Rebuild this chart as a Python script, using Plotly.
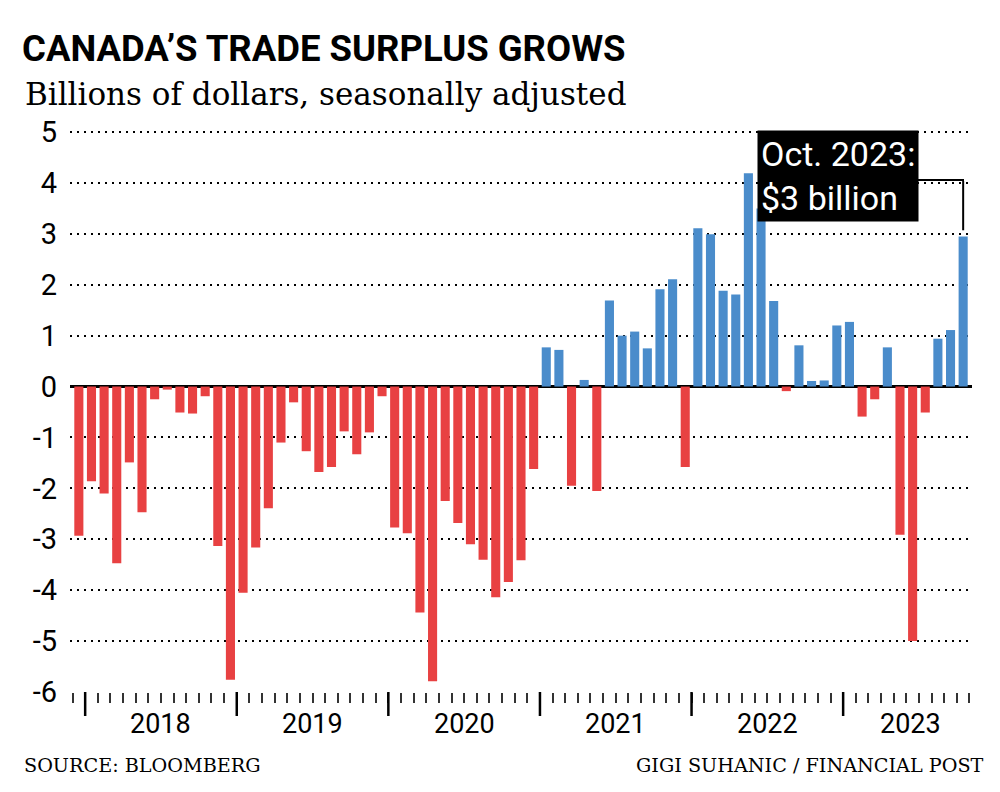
import plotly.graph_objects as go

# ---- data (billions CAD, seasonally adjusted), Dec 2017 .. Oct 2023 ----
months = ["Dec 2017",
          "Jan 2018", "Feb 2018", "Mar 2018", "Apr 2018", "May 2018", "Jun 2018",
          "Jul 2018", "Aug 2018", "Sep 2018", "Oct 2018", "Nov 2018", "Dec 2018",
          "Jan 2019", "Feb 2019", "Mar 2019", "Apr 2019", "May 2019", "Jun 2019",
          "Jul 2019", "Aug 2019", "Sep 2019", "Oct 2019", "Nov 2019", "Dec 2019",
          "Jan 2020", "Feb 2020", "Mar 2020", "Apr 2020", "May 2020", "Jun 2020",
          "Jul 2020", "Aug 2020", "Sep 2020", "Oct 2020", "Nov 2020", "Dec 2020",
          "Jan 2021", "Feb 2021", "Mar 2021", "Apr 2021", "May 2021", "Jun 2021",
          "Jul 2021", "Aug 2021", "Sep 2021", "Oct 2021", "Nov 2021", "Dec 2021",
          "Jan 2022", "Feb 2022", "Mar 2022", "Apr 2022", "May 2022", "Jun 2022",
          "Jul 2022", "Aug 2022", "Sep 2022", "Oct 2022", "Nov 2022", "Dec 2022",
          "Jan 2023", "Feb 2023", "Mar 2023", "Apr 2023", "May 2023", "Jun 2023",
          "Jul 2023", "Aug 2023", "Sep 2023", "Oct 2023"]

balance = [-2.93,
           -1.86, -2.10, -3.47, -1.49, -2.47, -0.25, -0.06, -0.51, -0.53, -0.19, -3.13, -5.76,
           -4.05, -3.16, -2.39, -1.10, -0.31, -1.27, -1.68, -1.58, -0.88, -1.33, -0.90, -0.19,
           -2.77, -2.88, -4.44, -5.79, -2.25, -2.68, -3.10, -3.40, -4.14, -3.84, -3.41, -1.62,
           0.77, 0.72, -1.95, 0.13, -2.05, 1.69, 1.00, 1.08, 0.75, 1.91, 2.11, -1.58,
           3.11, 2.99, 1.88, 1.81, 4.19, 3.50, 1.68, -0.09, 0.81, 0.11, 0.12, 1.20,
           1.27, -0.59, -0.25, 0.77, -2.91, -5.00, -0.51, 0.94, 1.11, 2.95]

years = ["2018", "2019", "2020", "2021", "2022", "2023"]
y_ticks = [5, 4, 3, 2, 1, 0, -1, -2, -3, -4, -5, -6]

RED = "#E84142"
BLUE = "#4A8CCB"

# ---- layout geometry (pixels) ----
W, H = 1000, 792
L, R, T, B = 70, 28, 131, 100
PW, PH = W - L - R, H - T - B


def px(x):
    return (x - L) / PW


def py(y):
    return (H - B - y) / PH


idx = list(range(len(months)))
colors = [BLUE if v >= 0 else RED for v in balance]

fig = go.Figure()
fig.add_trace(go.Bar(x=idx, y=balance, marker=dict(color=colors, line=dict(width=0)),
                     hovertext=months, showlegend=False))

# year boundaries (January of each year) and mid-year label positions
jan_idx = [months.index("Jan " + y) for y in years]
year_bounds = [i - 0.5 for i in jan_idx]
year_mid = [b + 6 for b in year_bounds]
# 2023 partial year: label centred under its months
year_mid[-1] = (year_bounds[-1] + len(months) - 0.5) / 2 + 0.3

fig.update_layout(
    width=W, height=H,
    margin=dict(l=L, r=R, t=T, b=B),
    paper_bgcolor="white", plot_bgcolor="white",
    bargap=0.28,
    font=dict(family="Roboto", color="black"),
    xaxis=dict(
        range=[-0.7, len(months) - 0.3],
        showgrid=False, zeroline=False, showline=False,
        tickmode="array", tickvals=[i - 0.5 for i in idx] + [len(months) - 0.5],
        ticktext=[""] * (len(idx) + 1),
        ticks="outside", ticklen=10, tickwidth=1.5, tickcolor="#333333",
        fixedrange=True,
    ),
    yaxis=dict(
        range=[-6, 5.02],
        tickmode="array", tickvals=y_ticks, ticktext=[str(v) for v in y_ticks],
        tickfont=dict(family="Roboto", size=29, color="black"),
        showgrid=True, gridcolor="black", gridwidth=2, griddash="2px,5px",
        zeroline=True, zerolinecolor="black", zerolinewidth=3,
        showline=False, ticks="", ticklabelstandoff=12,
        fixedrange=True,
    ),
)

ann = []
for y, m in zip(years, year_mid):
    ann.append(dict(x=m, y=py(724), xref="x", yref="paper", text=y, showarrow=False,
                    font=dict(family="Roboto", size=27, color="black"),
                    xanchor="center", yanchor="middle"))

# titles
ann.append(dict(x=px(20), y=py(48), xref="paper", yref="paper",
                text="<b>CANADA’S TRADE SURPLUS GROWS</b>", showarrow=False,
                font=dict(family="Roboto", size=36.5, color="black"),
                xanchor="left", yanchor="middle"))
ann.append(dict(x=px(23), y=py(94), xref="paper", yref="paper",
                text="Billions of dollars, seasonally adjusted", showarrow=False,
                font=dict(family="DejaVu Serif", size=31, color="black"),
                xanchor="left", yanchor="middle"))
# footer
ann.append(dict(x=px(22), y=py(765), xref="paper", yref="paper",
                text="SOURCE: BLOOMBERG", showarrow=False,
                font=dict(family="DejaVu Serif", size=19.2, color="black"),
                xanchor="left", yanchor="middle"))
ann.append(dict(x=px(986), y=py(765), xref="paper", yref="paper",
                text="GIGI SUHANIC / FINANCIAL POST", showarrow=False,
                font=dict(family="DejaVu Serif", size=19.2, color="black"),
                xanchor="right", yanchor="middle"))

# callout box
ann.append(dict(x=px(757), y=py(130), xref="paper", yref="paper",
                text="Oct. 2023:<br>$3 billion", showarrow=False, align="left",
                font=dict(family="Roboto", size=34, color="white"),
                bgcolor="black", borderpad=3,
                xanchor="left", yanchor="top"))
fig.update_layout(annotations=ann)

# long year-boundary ticks
for b in year_bounds:
    fig.add_shape(type="line", xref="x", yref="paper", x0=b, x1=b,
                  y0=py(692), y1=py(716), line=dict(color="black", width=2.5))

last = len(months) - 1
fig.add_shape(type="line", xref="paper", yref="paper",
              x0=px(900), x1=px(964), y0=py(180), y1=py(180),
              line=dict(color="black", width=2), layer="below")
fig.add_shape(type="line", xref="x", yref="y",
              x0=last, x1=last, y0=4.04, y1=balance[last] + 0.12,
              line=dict(color="black", width=2))

fig.write_html("out.html")
